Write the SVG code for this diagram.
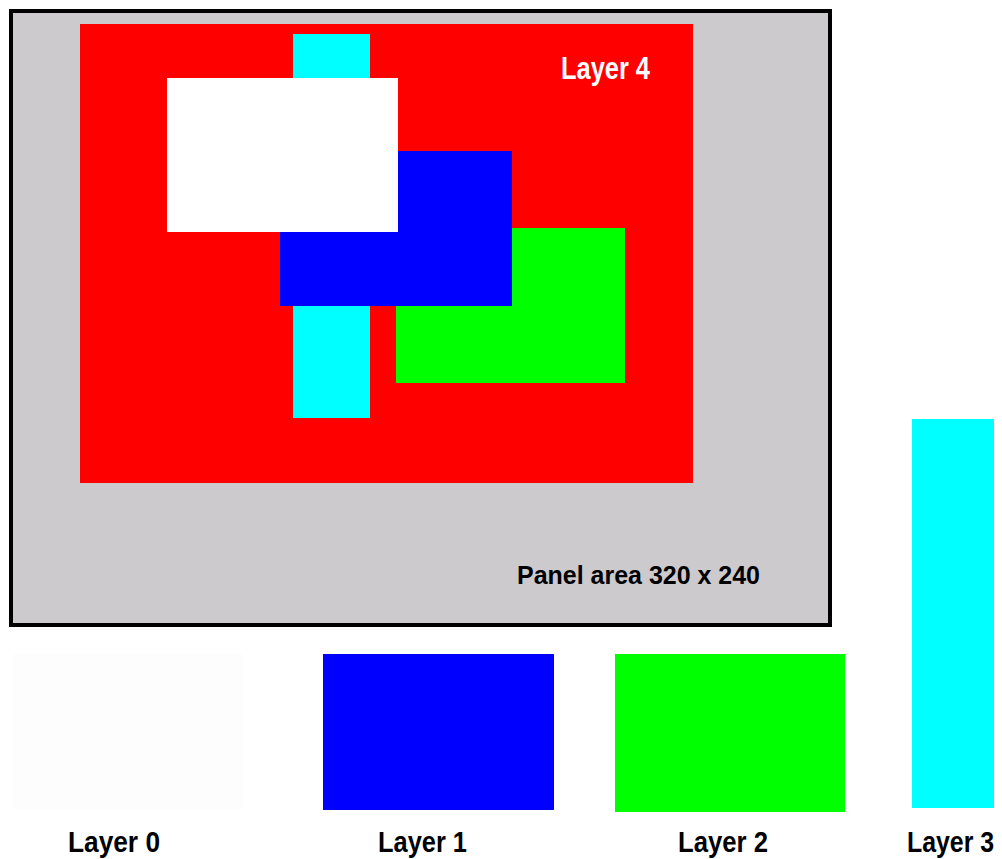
<svg xmlns="http://www.w3.org/2000/svg" width="1002" height="859" viewBox="0 0 1002 859">
<style>
text{font-family:"Liberation Sans",Arial,sans-serif;font-weight:bold;}
.lbl{font-size:30px;fill:#000;}
</style>
<rect width="1002" height="859" fill="#fff"/>
<g id="panel">
<rect x="11" y="11" width="819" height="614" fill="#cccacd" stroke="#000" stroke-width="4"/>
<text x="517" y="584" font-size="26.5" textLength="243" lengthAdjust="spacingAndGlyphs">Panel area 320 x 240</text>
</g>
<g id="layer4">
<rect x="80" y="24" width="613" height="459" fill="#ff0000"/>
<text x="561" y="79" font-size="31" fill="#fff" textLength="89" lengthAdjust="spacingAndGlyphs">Layer 4</text>
</g>
<g id="panel-layer3"><rect x="293" y="34" width="77" height="384" fill="#00ffff"/></g>
<g id="panel-layer2"><rect x="396" y="228" width="229" height="155" fill="#00ff00"/></g>
<g id="panel-layer1"><rect x="280" y="151" width="232" height="155" fill="#0000ff"/></g>
<g id="panel-layer0"><rect x="167" y="78" width="231" height="154" fill="#ffffff"/></g>
<g id="layer0">
<rect x="13" y="654" width="230" height="155" fill="#fdfdfd"/>
<text class="lbl" x="68" y="852" textLength="92" lengthAdjust="spacingAndGlyphs">Layer 0</text>
</g>
<g id="layer1">
<rect x="323" y="654" width="231" height="156" fill="#0000ff"/>
<text class="lbl" x="378" y="852" textLength="89" lengthAdjust="spacingAndGlyphs">Layer 1</text>
</g>
<g id="layer2">
<rect x="615" y="654" width="230" height="158" fill="#00ff00"/>
<text class="lbl" x="678" y="852" textLength="90" lengthAdjust="spacingAndGlyphs">Layer 2</text>
</g>
<g id="layer3">
<rect x="912" y="419" width="82" height="389" fill="#00ffff"/>
<text class="lbl" transform="translate(907,852) scale(0.83,1)" x="0" y="0">Layer 3</text>
</g>
<g id="connectors"/>
</svg>
